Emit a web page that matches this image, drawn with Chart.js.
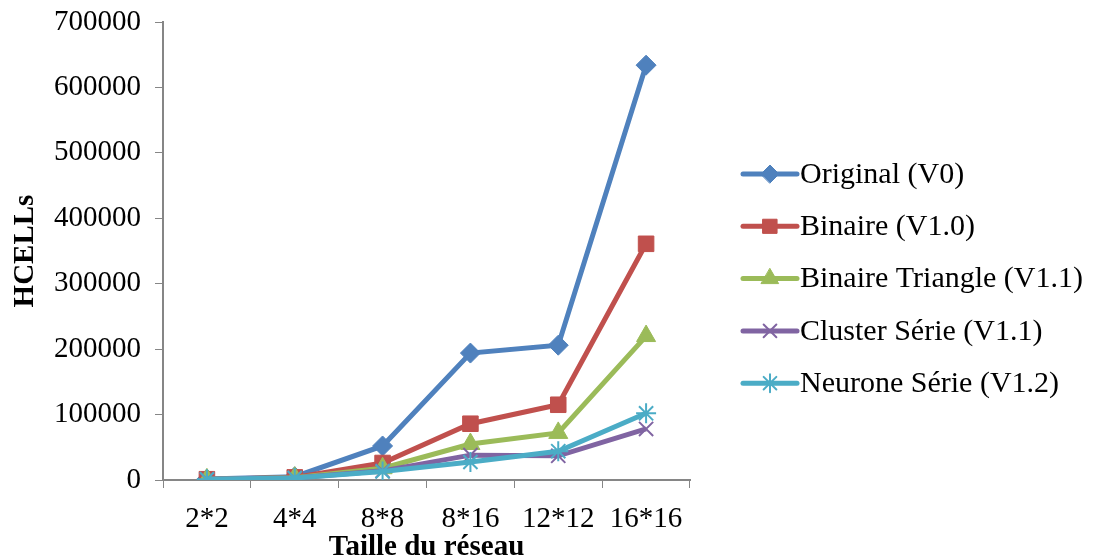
<!DOCTYPE html>
<html lang="fr">
<head>
<meta charset="UTF-8">
<title>HCELLs</title>
<script src="https://cdn.jsdelivr.net/npm/chart.js"></script>
<style>
  body { margin: 0; background: #ffffff; }
  #wrap { width: 1097px; height: 559px; }
</style>
</head>
<body>
<div id="wrap"><canvas id="chart" width="1097" height="559"></canvas></div>
<script>
var tailles = ['2*2', '4*4', '8*8', '8*16', '12*12', '16*16'];
var yTicks = [0, 100000, 200000, 300000, 400000, 500000, 600000, 700000];

var original = [1500, 5000, 52000, 194000, 206000, 634000];
var binaire = [1200, 4000, 26000, 86000, 115000, 361000];
var binaireTriangle = [1000, 3500, 18000, 55000, 72000, 220000];
var clusterSerie = [1000, 3000, 14000, 38000, 37000, 78000];
var neuroneSerie = [1000, 3000, 13000, 27500, 44000, 102000];

var noms = ['Original (V0)', 'Binaire (V1.0)', 'Binaire Triangle (V1.1)', 'Cluster Série (V1.1)', 'Neurone Série (V1.2)'];
var couleurs = ['#4F81BD', '#C0504D', '#9BBB59', '#8064A2', '#4BACC6'];
var formes = ['rectRot', 'rect', 'triangle', 'crossRot', 'star'];
var tailleMarque = [10, 11, 11, 10, 10];

var series = [original, binaire, binaireTriangle, clusterSerie, neuroneSerie];
var police = "'Liberation Serif', 'DejaVu Serif', serif";

var datasets = series.map(function (vals, i) {
  return {
    label: noms[i],
    data: vals,
    borderColor: couleurs[i],
    backgroundColor: couleurs[i],
    borderWidth: 5,
    pointStyle: formes[i],
    pointRadius: tailleMarque[i],
    pointBorderWidth: (formes[i] === 'crossRot' || formes[i] === 'star') ? 2 : 1,
    pointBorderColor: couleurs[i],
    pointBackgroundColor: couleurs[i],
    tension: 0,
    order: 5 - i
  };
});

// legende a droite: trait + marque, comme dans Excel
var legendeExcel = {
  id: 'legendeExcel',
  afterDraw: function (chart) {
    var ctx = chart.ctx;
    var x0 = 743, x1 = 797, y0 = 174, pas = 52.3;
    ctx.save();
    ctx.font = '30px ' + police;
    ctx.textBaseline = 'middle';
    for (var i = 0; i < noms.length; i++) {
      var y = y0 + i * pas;
      ctx.strokeStyle = couleurs[i];
      ctx.lineWidth = 5;
      ctx.lineCap = 'round';
      ctx.beginPath();
      ctx.moveTo(x0, y);
      ctx.lineTo(x1, y);
      ctx.stroke();
      ctx.fillStyle = couleurs[i];
      ctx.lineWidth = (formes[i] === 'crossRot' || formes[i] === 'star') ? 2 : 1;
      Chart.helpers.drawPoint(ctx, { pointStyle: formes[i], radius: tailleMarque[i] - 1, borderWidth: ctx.lineWidth }, (x0 + x1) / 2, y);
      ctx.fillStyle = '#000';
      ctx.fillText(noms[i], x1 + 3, y + 1);
    }
    ctx.restore();
  }
};

new Chart(document.getElementById('chart'), {
  type: 'line',
  data: { labels: tailles, datasets: datasets },
  plugins: [legendeExcel],
  options: {
    responsive: false,
    animation: false,
    layout: { autoPadding: false, padding: { left: 0, right: 407, top: 22, bottom: 0 } },
    plugins: { legend: { display: false }, tooltip: { enabled: false } },
    scales: {
      x: {
        offset: true,
        afterFit: function (scale) { scale.height = 79; scale.paddingLeft = 0; scale.paddingRight = 0; },
        grid: { display: true, offset: true, drawOnChartArea: false, color: '#868686', tickLength: 8, lineWidth: 1 },
        border: { color: '#868686', width: 2 },
        ticks: { color: '#000', font: { family: police, size: 29 }, padding: 14, maxRotation: 0, autoSkip: false },
        title: { display: true, text: 'Taille du réseau', color: '#000', font: { family: police, size: 29, weight: 'bold' }, padding: { top: 0, bottom: -6 } }
      },
      y: {
        min: 0,
        max: 700000,
        afterFit: function (scale) { scale.width = 163; scale.paddingTop = 0; scale.paddingBottom = 0; },
        afterBuildTicks: function (axis) { axis.ticks = yTicks.map(function (v) { return { value: v }; }); },
        grid: { display: true, drawOnChartArea: false, color: '#868686', tickLength: 8 },
        border: { color: '#868686', width: 2 },
        ticks: { color: '#000', font: { family: police, size: 29 }, padding: 14, callback: function (v) { return String(v); } },
        title: { display: true, text: 'HCELLs', color: '#000', font: { family: police, size: 29, weight: 'bold' }, padding: { top: 8, bottom: 0 } }
      }
    }
  }
});
</script>
</body>
</html>
